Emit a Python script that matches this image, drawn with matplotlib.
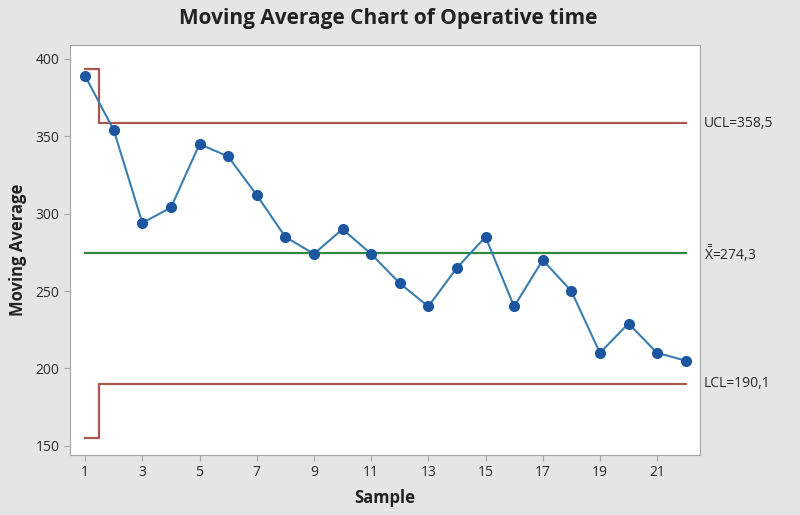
import matplotlib
matplotlib.use("Agg")
import matplotlib.pyplot as plt

# Дані ковзного середнього
samples = list(range(1, 23))
moving_avg = [389, 354, 294, 304, 345, 337, 312, 285, 274, 290, 274,
              255, 240, 265, 285, 240, 270, 250, 210, 229, 210, 205]

center = 274.3
ucl = 358.5
lcl = 190.1
ucl_first = 393.5
lcl_first = 155.1

plt.rcParams['font.family'] = ['Open Sans', 'DejaVu Sans']
plt.rcParams['mathtext.fontset'] = 'custom'
plt.rcParams['mathtext.rm'] = 'Open Sans'
plt.rcParams['mathtext.it'] = 'Open Sans'

fig = plt.figure(figsize=(8, 5.15), dpi=100, facecolor='#e5e5e5')
ax = fig.add_axes([0.0875, 0.1165, 0.7875, 0.796])
ax.set_facecolor('white')

# Контрольні межі (сходинка для першої точки)
limit_x = [1, 1.5, 1.5, 22]
ax.plot(limit_x, [ucl_first, ucl_first, ucl, ucl], color='#a8574d', lw=1.6)
ax.plot(limit_x, [lcl_first, lcl_first, lcl, lcl], color='#a8574d', lw=1.6)
ax.plot([1, 22], [center, center], color='#2f8a3f', lw=1.6)

ax.plot(samples, moving_avg, color='#3a7db0', lw=1.5, marker='o',
        markersize=7, markerfacecolor='#1d56a0', markeredgecolor='#1d56a0')

ax.set_xlim(0.47, 22.5)
ax.set_ylim(144, 409)
ax.set_xticks(range(1, 22, 2))
ax.set_yticks(range(150, 401, 50))

for s in ax.spines.values():
    s.set_color('#a6a6a6')
ax.tick_params(colors='#a6a6a6', labelcolor='#2b2b2b', labelsize=10, length=4)

ax.set_xlabel('Sample', fontsize=12, fontweight='bold', color='#222222', labelpad=6)
ax.set_ylabel('Moving Average', fontsize=12, fontweight='bold', color='#222222', labelpad=6)
fig.suptitle('Moving Average Chart of Operative time', x=0.485, y=0.985,
             fontsize=15, fontweight='bold', color='#222222')

ax.text(1.006, ucl, 'UCL=358,5', transform=ax.get_yaxis_transform(),
        va='center', ha='left', fontsize=10, color='#2b2b2b')
ax.text(1.006, center, r'$\bar{\bar{\mathrm{X}}}$=274,3', transform=ax.get_yaxis_transform(),
        va='center', ha='left', fontsize=10, color='#2b2b2b')
ax.text(1.006, lcl, 'LCL=190,1', transform=ax.get_yaxis_transform(),
        va='center', ha='left', fontsize=10, color='#2b2b2b')

fig.savefig('out.png', dpi=100, facecolor=fig.get_facecolor())
